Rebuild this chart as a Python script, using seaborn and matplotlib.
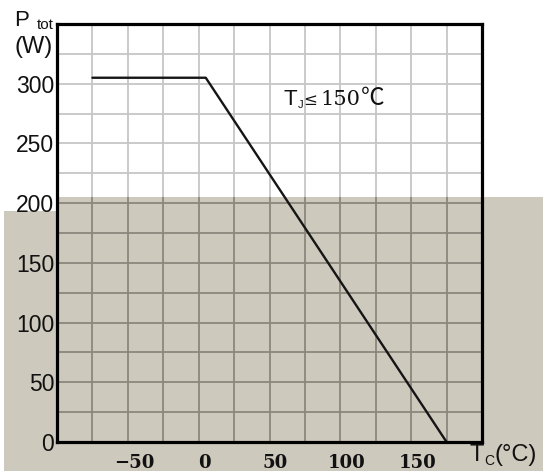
import numpy as np
import pandas as pd
import matplotlib
matplotlib.use("Agg")
import matplotlib.pyplot as plt
from matplotlib.patches import Polygon
from matplotlib.transforms import ScaledTranslation
import seaborn as sns

# ---- data ----
tc = [-75, 5, 175]          # case temperature (°C)
ptot = [305, 305, 0]        # total power (W)
x_ticks = [-50, 0, 50, 100, 150]
y_ticks = [0, 50, 100, 150, 200, 250, 300]
x_grid = np.arange(-75, 200, 25)
y_grid = np.arange(25, 350, 25)
shade_top = 205             # level where the beige scan background starts (W)

W, H = 543, 471
sns.set_theme(style="white")
plt.rcParams["font.family"] = ["Liberation Sans", "DejaVu Sans"]

fig = plt.figure(figsize=(W / 100, H / 100), dpi=100)
fig.patch.set_facecolor("white")

def px(x, y):
    return (x / W, 1 - y / H)

beige = "#CEC9BD"
poly = Polygon([px(4, 211), px(57, 211), px(57, 197), px(543, 197),
                px(543, 471), px(4, 471)], closed=True,
               transform=fig.transFigure, facecolor=beige, edgecolor="none", zorder=-5)
fig.patches.append(poly)

ax = fig.add_axes([57 / W, 29 / H, 425 / W, 418 / H])
ax.set_zorder(2)
ax.set_facecolor("none")
ax.set_xlim(-100, 200)
ax.set_ylim(0, 350)

light, dark = "#c6c6c6", "#8b877d"
for gx in x_grid:
    ax.vlines(gx, shade_top, 350, color=light, lw=1.3, zorder=1)
    ax.vlines(gx, 0, shade_top, color=dark, lw=1.3, zorder=1)
for gy in y_grid:
    ax.hlines(gy, -100, 200, color=(light if gy > shade_top else dark), lw=1.3, zorder=1)

df = pd.DataFrame({"Tc": tc, "Ptot": ptot})
sns.lineplot(data=df, x="Tc", y="Ptot", ax=ax, color="#151515", lw=1.7,
             sort=False, zorder=3)
ax.set_xlabel("")
ax.set_ylabel("")

ax.set_xticks(x_ticks)
ax.set_xticklabels(["\u221250" if v < 0 else str(v) for v in x_ticks],
                   fontfamily="DejaVu Serif", fontweight="bold", fontsize=13)
ax.set_yticks(y_ticks)
ax.set_yticklabels([str(v) for v in y_ticks], fontsize=16.5)
ax.tick_params(axis="x", length=0, pad=9, colors="#111111")
ax.tick_params(axis="y", length=0, pad=2, colors="#111111")
off = ScaledTranslation(6 / 100, 0, fig.dpi_scale_trans)
for lab in ax.get_xticklabels():
    lab.set_transform(lab.get_transform() + off)

for s in ax.spines.values():
    s.set_visible(True)
    s.set_color("black")
    s.set_linewidth(2.3)
    s.set_zorder(5)

def ftext(x, y, s, **kw):
    fig.text(x / W, 1 - y / H, s, va="baseline", ha="left", color="#111111", **kw)

# y-axis label
ftext(14, 26, "P", fontsize=16)
ftext(37, 29, "tot", fontsize=11)
ftext(15, 53, "(W)", fontsize=17)
# x-axis label
ftext(469, 461, "T", fontsize=17)
ftext(484, 465, "C", fontsize=10)
ftext(495, 461, "(°C)", fontsize=17)
# annotation
ftext(284, 105, "T", fontsize=16)
ftext(298, 108, "J", fontsize=8)
ftext(303, 105, "\u2264", fontsize=12, family=["DejaVu Serif", "DejaVu Sans"])
ftext(320, 105, "150", fontsize=15, family=["DejaVu Serif"])
ftext(361, 105, "\u2103", fontsize=17, family=["Noto Sans CJK SC", "DejaVu Sans"])

fig.savefig("out.png", dpi=100)
